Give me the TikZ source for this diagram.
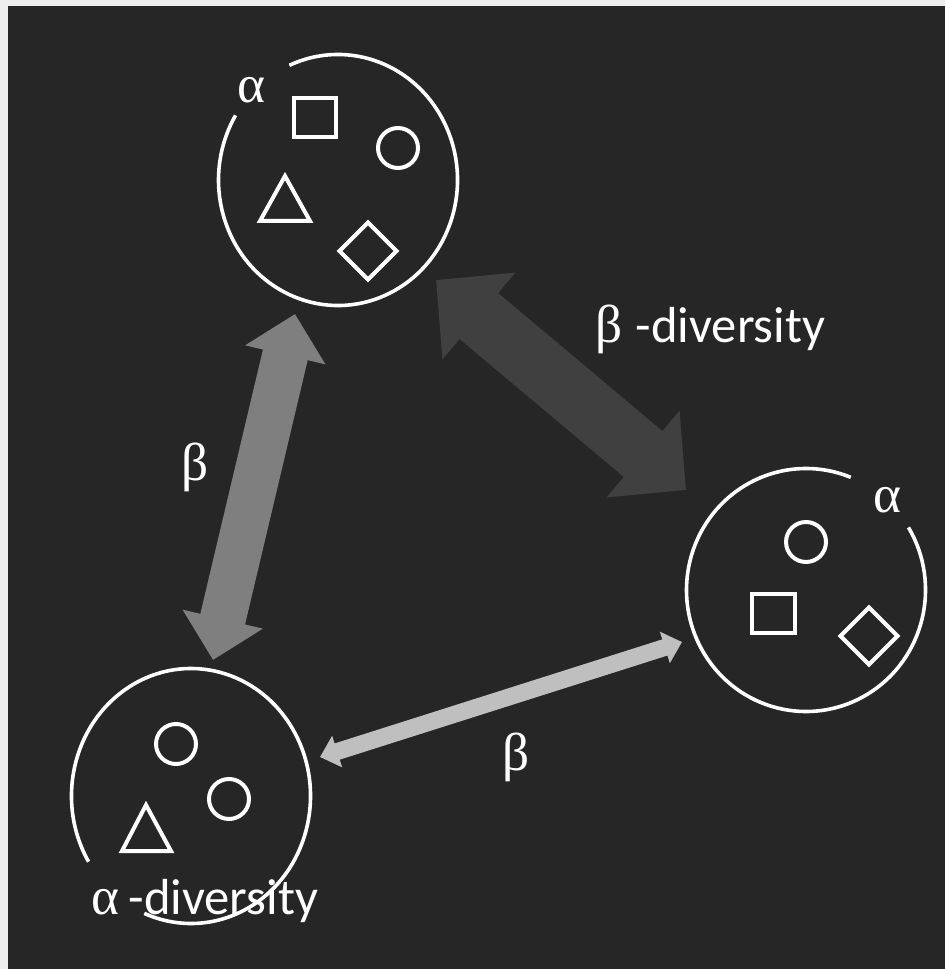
\documentclass[tikz,border=0pt]{standalone}
\usepackage{fontspec}
\setmainfont{Carlito}
\newfontfamily\grk{Liberation Serif}
\usetikzlibrary{arrows.meta}
\definecolor{bg}{HTML}{262626}
\definecolor{edgecol}{HTML}{EEEEEE}
\definecolor{arrowmid}{HTML}{7F7F7F}
\definecolor{arrowdark}{HTML}{404040}
\definecolor{arrowlight}{HTML}{BFBFBF}
\tikzset{
  ring/.style={draw=white, line width=2.7pt},
  glyph/.style={draw=white, line width=3pt, line join=miter},
  greek/.style={text=white, inner sep=0pt, font=\grk\fontsize{40}{42}\selectfont},
  label/.style={text=white, inner sep=0pt, font=\fontsize{38}{40}\selectfont},
  bigarrow/.style={line cap=butt}
}
\begin{document}
\begin{tikzpicture}[x=0.75pt,y=-0.75pt]
\useasboundingbox (0,0) rectangle (945,969);
\fill[edgecol] (0,0) rectangle (945,969);
\fill[bg] (8,6) rectangle (945,969);

% community centres
\coordinate (top) at (338,180);
\coordinate (right) at (806,590);
\coordinate (left) at (191,796);

% rings with a gap
\draw[ring] (top) ++(246:119.5 and 125.5) arc[start angle=246,end angle=571,x radius=119.5,y radius=125.5];
\draw[ring] (right) ++(329:119.5 and 121.5) arc[start angle=329,end angle=652,x radius=119.5,y radius=121.5];
\draw[ring] (left) ++(149:119.5 and 127.5) arc[start angle=149,end angle=473,x radius=119.5,y radius=127.5];

% top community
\draw[glyph] (294,98.5) rectangle (336,137.5);
\draw[glyph] (398,148) circle[radius=20];
\draw[glyph] (285,176) -- (260,221) -- (310,221) -- cycle;
\draw[glyph] (368,222.5) -- (396.5,251) -- (368,279.5) -- (339.5,251) -- cycle;

% right community
\draw[glyph] (806,542) circle[radius=20];
\draw[glyph] (751.5,593.5) rectangle (794.5,632.5);
\draw[glyph] (869,607.5) -- (897.5,636) -- (869,664.5) -- (840.5,636) -- cycle;

% left community
\draw[glyph] (176,744) circle[radius=20];
\draw[glyph] (229,799) circle[radius=20];
\draw[glyph] (146,805) -- (122,851) -- (171,851) -- cycle;

% arrows
\coordinate (ga) at (213,660);
\coordinate (gb) at (295,314);
\coordinate (da) at (436,280);
\coordinate (db) at (686,490);
\coordinate (la) at (320,757);
\coordinate (lb) at (682,642);
\draw[bigarrow, draw=arrowmid, line width=34.5pt,
  {Triangle[width=60pt,length=31.5pt,fill=arrowmid]}-{Triangle[width=60pt,length=31.5pt,fill=arrowmid]}] (ga) -- (gb);
\draw[bigarrow, draw=arrowdark, line width=45pt,
  {Triangle[width=82.5pt,length=42pt,fill=arrowdark]}-{Triangle[width=82.5pt,length=42pt,fill=arrowdark]}] (da) -- (db);
\draw[bigarrow, draw=arrowlight, line width=12.75pt,
  {Triangle[width=24pt,length=13.5pt,fill=arrowlight]}-{Triangle[width=24pt,length=13.5pt,fill=arrowlight]}] (la) -- (lb);

% labels
\node[greek] (atop) at (251,90) {α};
\node[greek] (aright) at (887,500) {α};
\node[greek] (bleft) at (195,467) {β};
\node[greek] (bbottom) at (516,757) {β};
\node[label, anchor=base west] (bdiv) at (595,342) {{\grk\fontsize{40}{42}\selectfont β}\hspace{10pt}-diversity};
\node[label, anchor=base west] (adiv) at (91,914) {{\grk\fontsize{40}{42}\selectfont α}\hspace{7pt}-diversity};
\end{tikzpicture}
\end{document}
